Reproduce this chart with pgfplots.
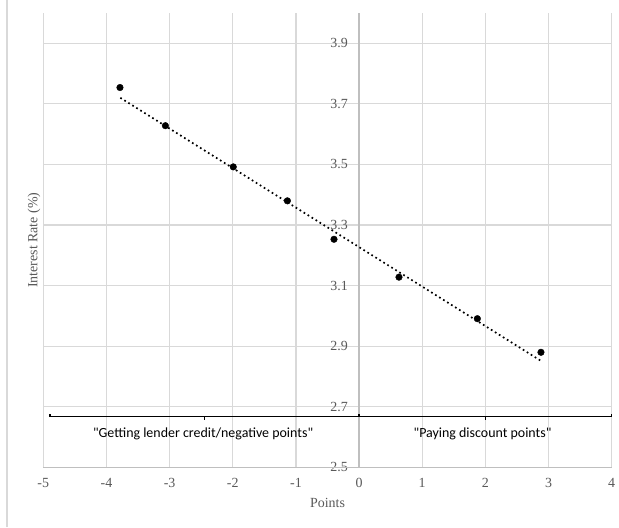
\documentclass[border=0pt]{standalone}
\usepackage{fontspec}
\setmainfont{Liberation Serif}
\newfontfamily\calib{Carlito}
\usepackage{pgfplots}
\pgfplotsset{compat=1.18}
\definecolor{gridc}{HTML}{D9D9D9}
\definecolor{axc}{HTML}{BFBFBF}
\definecolor{txt}{HTML}{595959}
\begin{document}
\begin{tikzpicture}
\useasboundingbox (-43.3bp,-59.7bp) rectangle (575.7bp,467.4bp);
\fill[white] (-43.3bp,-59.7bp) rectangle (575.7bp,467.4bp);
\draw[gridc, line width=1.2bp] (-36.3bp,-59.7bp) -- (-36.3bp,467.4bp);
\begin{axis}[
  at={(0,0)}, anchor=south west,
  scale only axis, width=568.4bp, height=454.4bp,
  xmin=-5, xmax=4, ymin=2.5, ymax=4.0,
  xtick={-5,-4,-3,-2,-1,0,1,2,3,4},
  xticklabels={-5,-4,-3,-2,-1,0,1,2,3,4},
  ytick={2.5,2.7,2.9,3.1,3.3,3.5,3.7,3.9},
  yticklabels={2.5,2.7,2.9,3.1,3.3,3.5,3.7,3.9},
  grid=major, grid style={gridc, line width=1.2bp},
  axis line style={draw=none},
  major tick length=0pt,
  /pgf/number format/assume math mode=true,
  tick label style={font=\fontsize{14}{15}\selectfont, text=txt},
  xticklabel style={anchor=center, inner sep=0pt, yshift=-15.7bp},
  yticklabel style={anchor=east, inner sep=0pt, xshift=304.7bp},
  xlabel={Points}, ylabel={Interest Rate (\%)},
  label style={font=\fontsize{14}{15}\selectfont, text=txt},
  xlabel style={at={(axis description cs:0.5,-0.0786)}, anchor=center},
  ylabel style={at={(axis description cs:-0.0164,0.5)}, anchor=center},
  clip=false,
]
\addplot[axc, line width=1.2bp] coordinates {(0,2.5) (0,4.0)};
\addplot[axc, line width=1.2bp] coordinates {(-5,2.5) (4,2.5)};
% bracket annotations
\addplot[black, line width=1.3bp] coordinates {(-4.894,2.675) (-4.894,2.667) (0,2.667) (0,2.675)};
\addplot[black, line width=1.3bp] coordinates {(-2.45,2.667) (-2.45,2.658)};
\addplot[black, line width=1.3bp] coordinates {(0,2.675) (0,2.667) (4,2.667) (4,2.675)};
\addplot[black, line width=1.3bp] coordinates {(2,2.667) (2,2.658)};
\node[font=\calib\fontsize{14}{16}\selectfont, anchor=center] at (axis cs:-2.47,2.612) {"Getting lender credit/negative points"};
\node[font=\calib\fontsize{14}{16}\selectfont, anchor=center] at (axis cs:1.955,2.612) {"Paying discount points"};
% trendline
\addplot[black, line width=1.7bp, dash pattern=on 1.7bp off 3bp] coordinates {(-3.78,3.720) (2.87,2.853)};
% data
\addplot[only marks, mark=*, mark size=3.3bp, black] coordinates {
(-3.786,3.754) (-3.067,3.628) (-1.992,3.492) (-1.135,3.380) (-0.397,3.253) (0.632,3.128) (1.873,2.991) (2.880,2.880)};
\end{axis}
\end{tikzpicture}
\end{document}
